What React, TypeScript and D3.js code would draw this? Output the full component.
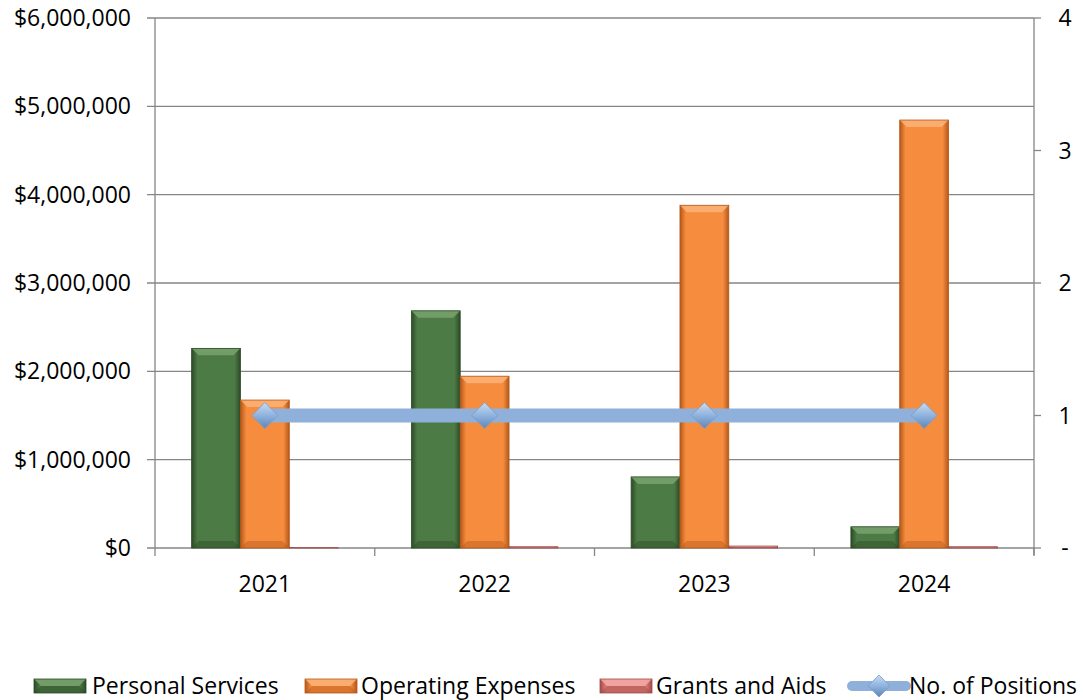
import React from "react";
import * as d3 from "d3";

const years = ["2021", "2022", "2023", "2024"];
const personalServices = [2260000, 2685000, 805000, 240000];
const operatingExpenses = [1675000, 1945000, 3880000, 4845000];
const grantsAndAids = [4000, 14000, 22000, 14000];
const positions = [1, 1, 1, 1];
const leftTicks = [0, 1000000, 2000000, 3000000, 4000000, 5000000, 6000000];
const rightTicks = [0, 1, 2, 3, 4];
const seriesNames = ["Personal Services", "Operating Expenses", "Grants and Aids", "No. of Positions"];

const W = 1083, H = 700;
const L = 155, R = 1034, T = 18, B = 548;
const FONT = "'Open Sans', sans-serif";
const FS = 23;

const barSeries = [
  { name: seriesNames[0], values: personalServices, base: "#4d7b45", dark: "#2c4a27", light: "#79a36f", id: "g" },
  { name: seriesNames[1], values: operatingExpenses, base: "#f68c3e", dark: "#b5581a", light: "#fbb378", id: "o" },
  { name: seriesNames[2], values: grantsAndAids, base: "#e07d79", dark: "#9e4b48", light: "#f4a9a6", id: "r" },
];

function Bevel({ x, y, w, h, s }: any) {
  if (h <= 0) return null;
  const bv = Math.min(7, h / 2, w / 4);
  return (
    <g>
      <rect x={x} y={y} width={w} height={h} fill={`url(#grad-${s.id})`} />
      <polygon points={`${x},${y} ${x + w},${y} ${x + w - bv},${y + bv} ${x + bv},${y + bv}`} fill={s.light} opacity={0.85} />
      <polygon points={`${x},${y + h} ${x + w},${y + h} ${x + w - bv},${y + h - bv} ${x + bv},${y + h - bv}`} fill={s.dark} opacity={0.45} />
      <rect x={x} y={y} width={w} height={h} fill="none" stroke={s.dark} strokeWidth={0.8} />
    </g>
  );
}

export default function App() {
  const x = d3.scaleBand().domain(years).range([L, R]).paddingInner(0).paddingOuter(0);
  const bw = x.bandwidth();
  const barW = bw / (3 + 1.5);
  const yL = d3.scaleLinear().domain([0, 6000000]).range([B, T]);
  const yR = d3.scaleLinear().domain([0, 4]).range([B, T]);
  const fmt = (v: number) => "$" + d3.format(",")(v);
  const line = d3.line<number>().x((_, i) => x(years[i])! + bw / 2).y((d) => yR(d));
  const dia = (cx: number, cy: number, r: number) => `M${cx},${cy - r}L${cx + r},${cy}L${cx},${cy + r}L${cx - r},${cy}Z`;

  const legendItems = [
    { x: 34, s: barSeries[0], tx: 92, label: seriesNames[0] },
    { x: 305, s: barSeries[1], tx: 361, label: seriesNames[1] },
    { x: 600, s: barSeries[2], tx: 656, label: seriesNames[2] },
  ];

  return (
    <svg width={W} height={H} style={{ position: "absolute", left: 0, top: 0, background: "#fff" }} fontFamily={FONT}>
      <defs>
        {barSeries.map((s) => (
          <linearGradient key={s.id} id={`grad-${s.id}`} x1="0" x2="1" y1="0" y2="0">
            <stop offset="0" stopColor={s.dark} />
            <stop offset="0.12" stopColor={s.base} />
            <stop offset="0.5" stopColor={s.base} />
            <stop offset="0.88" stopColor={s.base} />
            <stop offset="1" stopColor={s.dark} />
          </linearGradient>
        ))}
        <linearGradient id="diag" x1="0" y1="0" x2="0" y2="1">
          <stop offset="0" stopColor="#c9dcf2" />
          <stop offset="0.5" stopColor="#8fb3de" />
          <stop offset="1" stopColor="#5f86b8" />
        </linearGradient>
      </defs>
      {leftTicks.map((t) => (
        <line key={t} x1={L - 8} x2={R} y1={yL(t)} y2={yL(t)} stroke="#868686" strokeWidth={1.3} />
      ))}
      <line x1={L} x2={L} y1={T} y2={B} stroke="#868686" strokeWidth={1.3} />
      {leftTicks.map((t) => (
        <text key={t} x={131} y={yL(t)} dy="0.35em" textAnchor="end" fontSize={FS} fill="#000">{fmt(t)}</text>
      ))}
      <line x1={R} x2={R} y1={T} y2={B + 7} stroke="#868686" strokeWidth={1.3} />
      {rightTicks.map((t) => (
        <g key={t}>
          <line x1={R} x2={R + 7} y1={yR(t)} y2={yR(t)} stroke="#868686" strokeWidth={1.3} />
          <text x={1065} y={yR(t)} dy="0.35em" textAnchor="middle" fontSize={FS}>{t === 0 ? "-" : t}</text>
        </g>
      ))}
      {[...years.map((y) => x(y)!), R].map((px, i) => (
        <line key={i} x1={px} x2={px} y1={B} y2={B + 8} stroke="#868686" strokeWidth={1.3} />
      ))}
      {years.map((y) => (
        <text key={y} x={x(y)! + bw / 2} y={584} dy="0.35em" textAnchor="middle" fontSize={FS}>{y}</text>
      ))}
      {years.map((yr, i) =>
        barSeries.map((s, j) => {
          const bx = x(yr)! + barW * 0.75 + j * barW;
          const by = yL(s.values[i]);
          return <Bevel key={yr + s.id} x={bx} y={by} w={barW} h={B - by} s={s} />;
        })
      )}
      <path d={line(positions)!} fill="none" stroke="#8eb0da" strokeWidth={14} />
      {positions.map((p, i) => (
        <path key={i} d={dia(x(years[i])! + bw / 2, yR(p), 13)} fill="url(#diag)" stroke="#7a9cc8" strokeWidth={0.8} />
      ))}
      {legendItems.map((it) => (
        <g key={it.label}>
          <Bevel x={it.x} y={679} w={52} h={14} s={it.s} />
          <text x={it.tx} y={686} dy="0.35em" fontSize={FS}>{it.label}</text>
        </g>
      ))}
      <line x1={852} x2={906} y1={686} y2={686} stroke="#8eb0da" strokeWidth={10} strokeLinecap="round" />
      <path d={dia(879, 686, 11)} fill="url(#diag)" stroke="#7a9cc8" strokeWidth={0.8} />
      <text x={909} y={686} dy="0.35em" fontSize={FS}>{seriesNames[3]}</text>
    </svg>
  );
}
